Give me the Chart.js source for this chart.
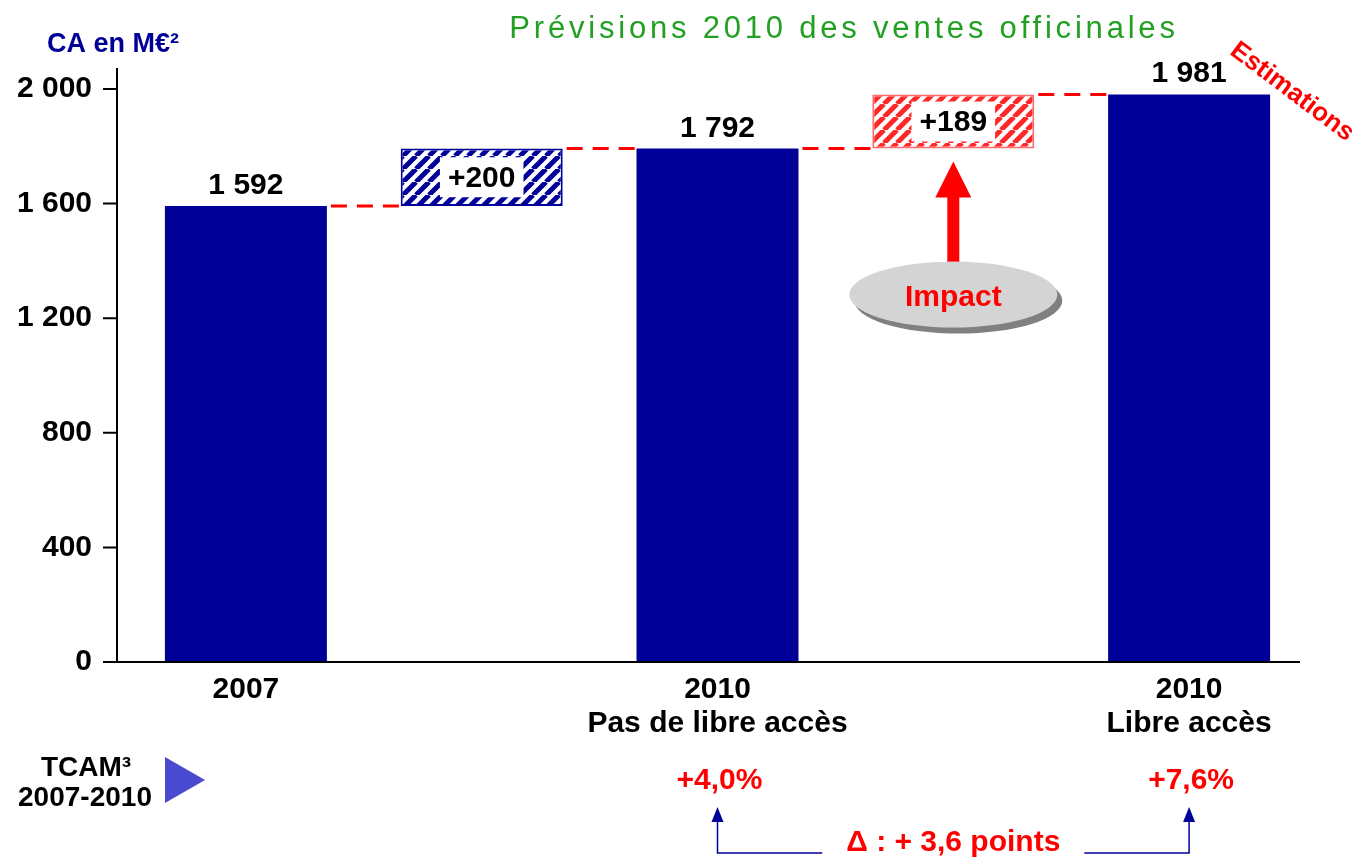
<!DOCTYPE html>
<html lang="fr">
<head>
<meta charset="utf-8">
<title>Prévisions 2010 des ventes officinales</title>
<script src="https://cdn.jsdelivr.net/npm/chart.js@4.4.1/dist/chart.umd.min.js"></script>
<style>
  html, body { margin: 0; padding: 0; background: #fff; }
  #wrap { width: 1354px; height: 857px; }
</style>
</head>
<body>
<div id="wrap"><canvas id="chart" width="1354" height="857"></canvas></div>
<script>
// Values (CA en M€)
const categories = [['2007'], [''], ['2010', 'Pas de libre accès'], [''], ['2010', 'Libre accès']];
const totals = [1592, null, 1792, null, 1981];
const stepNoAccess = [null, [1592, 1792], null, null, null];
const stepImpact = [null, null, null, [1792, 1981], null];
const stepLabels = [null, '+200', null, '+189', null];
const yTickValues = [0, 400, 800, 1200, 1600, 2000];
const growthLabels = [null, null, '+4,0%', null, '+7,6%'];
const growthDelta = 'Δ : + 3,6 points';

const FONT = "'Liberation Sans', Arial, sans-serif";
const NAVY = '#000099';
const RED = '#ff0000';

// "1 592" style thousands separator
const fmt = v => String(v).replace(/\B(?=(\d{3})+(?!\d))/g, ' ');

// Diagonal hatch pattern for the step boxes
function stripes(color, size, width) {
  const c = document.createElement('canvas');
  c.width = size; c.height = size;
  const g = c.getContext('2d');
  g.fillStyle = '#fff';
  g.fillRect(0, 0, size, size);
  g.strokeStyle = color;
  g.lineWidth = width;
  g.beginPath();
  [-size, 0, size].forEach(k => { g.moveTo(k, size); g.lineTo(k + size, 0); });
  g.stroke();
  return g.createPattern(c, 'repeat');
}

function ellipse(ctx, x, y, rx, ry, fill) {
  ctx.beginPath();
  ctx.ellipse(x, y, rx, ry, 0, 0, Math.PI * 2);
  ctx.fillStyle = fill;
  ctx.fill();
}

function arrowUp(ctx, x, tipY, bottomY, color, shaftW, headW, headH) {
  ctx.fillStyle = color;
  ctx.fillRect(x - shaftW / 2, tipY + headH - 1, shaftW, bottomY - tipY - headH + 1);
  ctx.beginPath();
  ctx.moveTo(x, tipY);
  ctx.lineTo(x + headW / 2, tipY + headH);
  ctx.lineTo(x - headW / 2, tipY + headH);
  ctx.closePath();
  ctx.fill();
}

const slideDecor = {
  id: 'slideDecor',
  afterDraw(chart) {
    const { ctx, chartArea: area, scales: { y } } = chart;
    const bars = i => {
      for (let d = 0; d < chart.data.datasets.length; d++) {
        const v = chart.data.datasets[d].data[i];
        if (v !== null && v !== undefined) return { el: chart.getDatasetMeta(d).data[i], v };
      }
    };
    ctx.save();

    // axes
    const axisX = area.left - 11;
    ctx.strokeStyle = '#000';
    ctx.lineWidth = 2;
    ctx.beginPath();
    ctx.moveTo(axisX, area.top - 21);
    ctx.lineTo(axisX, area.bottom);
    ctx.moveTo(axisX, area.bottom);
    ctx.lineTo(area.right - 7, area.bottom);
    yTickValues.forEach(v => {
      const py = y.getPixelForValue(v);
      ctx.moveTo(axisX - 14, py);
      ctx.lineTo(axisX, py);
    });
    ctx.stroke();

    // dashed connectors between consecutive bars
    ctx.strokeStyle = RED;
    ctx.lineWidth = 3;
    ctx.setLineDash([16, 10]);
    for (let i = 0; i < categories.length - 1; i++) {
      const a = bars(i), b = bars(i + 1);
      const level = Array.isArray(a.v) ? a.v[1] : a.v;
      const py = y.getPixelForValue(level);
      ctx.beginPath();
      ctx.moveTo(a.el.x + a.el.width / 2 + 4, py);
      ctx.lineTo(b.el.x - b.el.width / 2, py);
      ctx.stroke();
    }
    ctx.setLineDash([]);

    // value labels above the totals
    ctx.fillStyle = '#000';
    ctx.font = `bold 30px ${FONT}`;
    ctx.textAlign = 'center';
    ctx.textBaseline = 'alphabetic';
    totals.forEach((v, i) => {
      if (v === null) return;
      const el = bars(i).el;
      ctx.fillText(fmt(v), el.x, el.y - 12);
    });

    // step labels on a white patch inside the hatched boxes
    ctx.textBaseline = 'middle';
    stepLabels.forEach((t, i) => {
      if (!t) return;
      const el = bars(i).el;
      const top = Math.min(el.y, el.base), bottom = Math.max(el.y, el.base);
      const cy = (top + bottom) / 2;
      const w = ctx.measureText(t).width + 16;
      const h = Math.min(40, bottom - top - 3);
      ctx.fillStyle = '#fff';
      ctx.fillRect(el.x - w / 2, cy - h / 2, w, h);
      ctx.fillStyle = '#000';
      ctx.fillText(t, el.x, cy + 1);
    });

    // Impact arrow + bubble under the +189 step
    const imp = bars(3).el;
    const ecx = imp.x, ecy = imp.base + 146;
    arrowUp(ctx, imp.x, imp.base + 13, ecy - 32, RED, 12, 36, 36);
    ellipse(ctx, ecx + 5, ecy + 6, 104, 33, '#808080');
    ellipse(ctx, ecx, ecy, 104, 33, '#d4d4d4');
    ctx.fillStyle = RED;
    ctx.font = `bold 30px ${FONT}`;
    ctx.fillText('Impact', ecx, ecy + 3);

    // title
    ctx.fillStyle = '#22a022';
    ctx.font = `31px ${FONT}`;
    ctx.letterSpacing = '3.8px';
    ctx.fillText('Prévisions 2010 des ventes officinales', 844, 29);
    ctx.letterSpacing = '0px';

    // unit label
    ctx.fillStyle = NAVY;
    ctx.font = `bold 27px ${FONT}`;
    ctx.textAlign = 'left';
    ctx.textBaseline = 'alphabetic';
    ctx.fillText('CA en M€²', 47, 52);

    // "Estimations" stamp
    ctx.save();
    ctx.translate(1292, 92);
    ctx.rotate(37 * Math.PI / 180);
    ctx.fillStyle = RED;
    ctx.font = `bold 26px ${FONT}`;
    ctx.textAlign = 'center';
    ctx.textBaseline = 'middle';
    ctx.fillText('Estimations', 0, 0);
    ctx.restore();

    // TCAM row
    ctx.fillStyle = '#000';
    ctx.font = `bold 28px ${FONT}`;
    ctx.textAlign = 'center';
    ctx.textBaseline = 'middle';
    ctx.fillText('TCAM³', 86, 768);
    ctx.fillText('2007-2010', 85, 798);
    ctx.fillStyle = '#4a4ad0';
    ctx.beginPath();
    ctx.moveTo(165, 757);
    ctx.lineTo(205, 780);
    ctx.lineTo(165, 803);
    ctx.closePath();
    ctx.fill();

    ctx.fillStyle = RED;
    ctx.font = `bold 30px ${FONT}`;
    const gx = [];
    growthLabels.forEach((t, i) => {
      if (!t) return;
      const el = bars(i).el;
      gx.push(el.x);
      ctx.fillText(t, el.x + 2, 781);
    });

    // delta between the two growth rates
    const mid = (gx[0] + gx[1]) / 2;
    ctx.fillText(growthDelta, mid, 843);
    const half = ctx.measureText(growthDelta).width / 2 + 24;
    ctx.strokeStyle = NAVY;
    ctx.lineWidth = 1.5;
    ctx.beginPath();
    ctx.moveTo(mid - half, 853);
    ctx.lineTo(gx[0], 853);
    ctx.lineTo(gx[0], 820);
    ctx.moveTo(mid + half, 853);
    ctx.lineTo(gx[1], 853);
    ctx.lineTo(gx[1], 820);
    ctx.stroke();
    ctx.fillStyle = NAVY;
    gx.forEach(x => {
      ctx.beginPath();
      ctx.moveTo(x, 807);
      ctx.lineTo(x + 6, 822);
      ctx.lineTo(x - 6, 822);
      ctx.closePath();
      ctx.fill();
    });

    ctx.restore();
  }
};

const tickFont = { family: FONT, size: 30, weight: 'bold', lineHeight: 1.15 };

new Chart(document.getElementById('chart'), {
  type: 'bar',
  data: {
    labels: categories,
    datasets: [
      {
        data: totals,
        backgroundColor: NAVY,
        borderWidth: 0
      },
      {
        data: stepNoAccess,
        backgroundColor: stripes(NAVY, 13, 5),
        borderColor: NAVY,
        borderWidth: 2,
        borderSkipped: false
      },
      {
        data: stepImpact,
        backgroundColor: stripes('#ff2828', 13, 5),
        borderColor: '#ff6a6a',
        borderWidth: 2,
        borderSkipped: false
      }
    ]
  },
  options: {
    responsive: false,
    animation: false,
    grouped: false,
    categoryPercentage: 1,
    barPercentage: 0.687,
    layout: { padding: { top: 89, right: 47, bottom: 0, left: 0 } },
    plugins: {
      legend: { display: false },
      tooltip: { enabled: false }
    },
    scales: {
      x: {
        grid: { display: false, drawTicks: false },
        border: { display: false },
        ticks: { color: '#000', font: tickFont, padding: 10, maxRotation: 0, autoSkip: false },
        afterFit(scale) { scale.height = 195; }
      },
      y: {
        min: 0,
        max: 2000,
        grid: { display: false, drawTicks: false },
        border: { display: false },
        afterBuildTicks(scale) { scale.ticks = yTickValues.map(v => ({ value: v })); },
        ticks: { color: '#000', font: tickFont, padding: 36, callback: v => fmt(v) },
        afterFit(scale) { scale.width = 128; }
      }
    }
  },
  plugins: [slideDecor]
});
</script>
</body>
</html>
